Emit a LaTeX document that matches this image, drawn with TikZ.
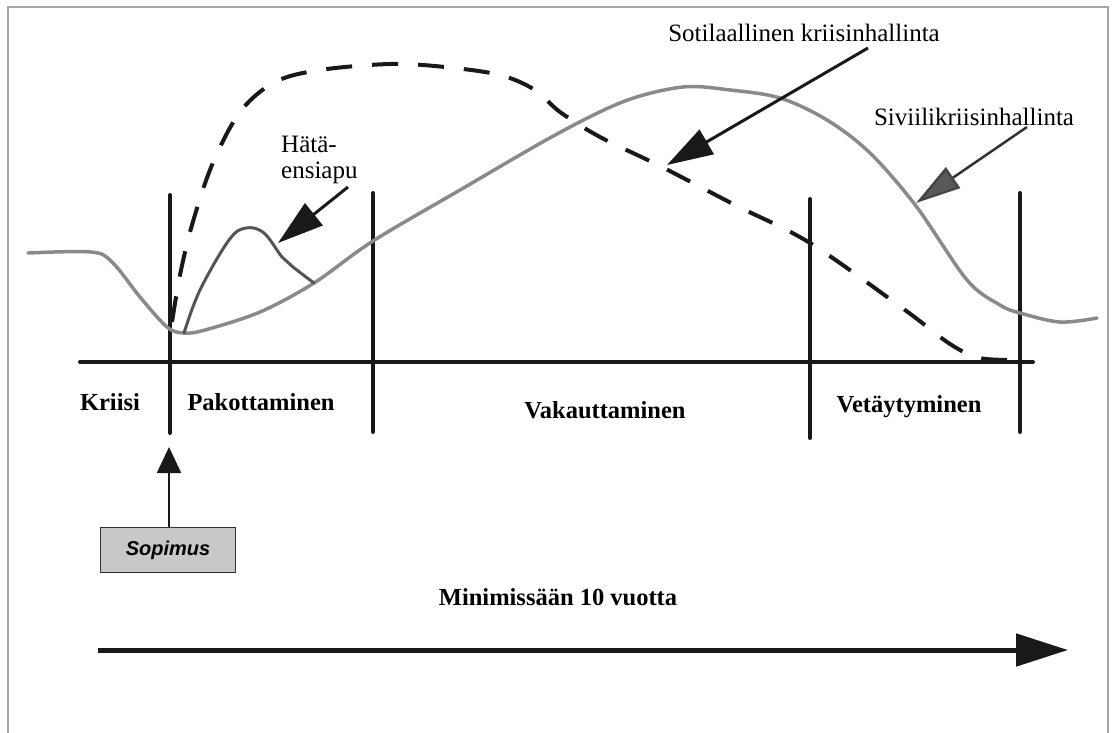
\documentclass[tikz,border=0pt]{standalone}
\usepackage{fontspec}
\setmainfont{Liberation Serif}
\newfontfamily\sopfont{Liberation Sans}
\usetikzlibrary{arrows.meta,positioning}
\definecolor{civilgray}{HTML}{8A8A8A}
\definecolor{aidgray}{HTML}{555555}
\definecolor{boxgray}{HTML}{C8C8C8}
\tikzset{
  frameline/.style={line width=1.2pt, gray!70},
  axisline/.style={line width=4pt, line cap=round, black!90},
  phaseline/.style={line width=4pt, line cap=round, black!90},
  phaselabel/.style={font=\fontsize{24.5}{28}\selectfont\bfseries, inner sep=0pt, anchor=base},
  curvelabel/.style={font=\fontsize{25}{26}\selectfont, inner sep=0pt},
  civilcurve/.style={line width=3.5pt, civilgray, line cap=round},
  aidcurve/.style={line width=3pt, aidgray, line cap=round},
  militarycurve/.style={line width=4pt, black!90, dash pattern=on 26pt off 20pt},
  pointer/.style={line width=3pt, black!90,
    -{Triangle[length=46pt, width=28pt]}},
  graypointer/.style={line width=2.5pt, black!80,
    -{Triangle[length=45pt, width=25pt, fill=gray!70!black, color=gray!55!black]}},
  sopimusbox/.style={draw=black!80, line width=1.5pt, fill=boxgray,
    minimum width=135pt, minimum height=45pt,
    font=\sopfont\fontsize{20}{24}\selectfont\bfseries\itshape},
  timearrow/.style={line width=5pt, black!90,
    -{Triangle[length=52pt, width=32pt]}}
}

\begin{document}
\begin{tikzpicture}[x=1pt, y=-1pt]
  \useasboundingbox (0,0) rectangle (1117,732);

  % frame
  \draw[frameline] (8,740) -- (8,7) -- (1108,7) -- (1108,740);

  % time axis and phase borders
  \draw[axisline] (80,362) -- (1033,362);
  \foreach \px/\ptop/\pbot in {170/195/433, 373/193/432, 810/199/438, 1020/193/432}
    \draw[phaseline] (\px,\ptop) -- (\px,\pbot);

  % phases
  \node[phaselabel] (kriisi) at (110,410) {Kriisi};
  \node[phaselabel] (pakottaminen) at (261,410) {Pakottaminen};
  \node[phaselabel] (vakauttaminen) at (605,418) {Vakauttaminen};
  \node[phaselabel] (vetaytyminen) at (909,412) {Vetäytyminen};

  % civil crisis management
  \draw[civilcurve] plot[smooth, tension=0.55] coordinates {
    (28,253) (91,252) (112,262) (140,297) (167,327) (184,333) (205,330)
    (260,312) (314,283) (373,241) (460,190) (557,134) (625,101) (683,87)
    (730,90) (780,98) (827,120) (870,153) (916,206) (967,280)
    (1000,305) (1020,313) (1060,322) (1097,318)};

  % emergency aid
  \draw[aidcurve] plot[smooth, tension=0.6] coordinates {
    (184,333) (200,290) (229,240) (246,228) (264,233) (282,257)
    (293,267) (314,283)};

  % military crisis management
  \draw[militarycurve] plot[smooth, tension=0.55] coordinates {
    (172,322) (180,275) (192,225) (212,165) (240,112) (275,82) (320,70)
    (390,64) (445,67) (500,75) (535,90) (560,112) (600,137) (660,166)
    (735,205) (810,243) (905,310) (950,344) (980,358) (1018,360)};

  % curve labels
  \node[curvelabel, align=left, anchor=north west] (hata) at (281,136) {Hätä-\\ensiapu};
  \node[curvelabel, anchor=base] (sotilas) at (804,41) {Sotilaallinen kriisinhallinta};
  \node[curvelabel, anchor=base] (siviili) at (974,125) {Siviilikriisinhallinta};

  \coordinate (hata-start) at (348,187);
  \coordinate (hata-tip) at (278,243);
  \coordinate (sotilas-start) at (868,48);
  \coordinate (sotilas-tip) at (667,165);
  \coordinate (siviili-start) at (1027,127);
  \coordinate (siviili-tip) at (916,203);
  \draw[pointer] (hata-start) -- (hata-tip);
  \draw[pointer] (sotilas-start) -- (sotilas-tip);
  \draw[graypointer] (siviili-start) -- (siviili-tip);

  % agreement
  \node[sopimusbox] (sopimus) at (168,550) {Sopimus};
  \coordinate (sopimus-tip) at (169,447);
  \draw[line width=2pt, black!90, -{Triangle[length=26pt, width=24pt]}]
    (sopimus.north -| sopimus-tip) -- (sopimus-tip);

  % duration
  \node[phaselabel] (kesto) at (558,605) {Minimissään 10 vuotta};
  \coordinate (time-start) at (98,650);
  \coordinate (time-end) at (1068,650);
  \draw[timearrow] (time-start) -- (time-end);
\end{tikzpicture}
\end{document}
